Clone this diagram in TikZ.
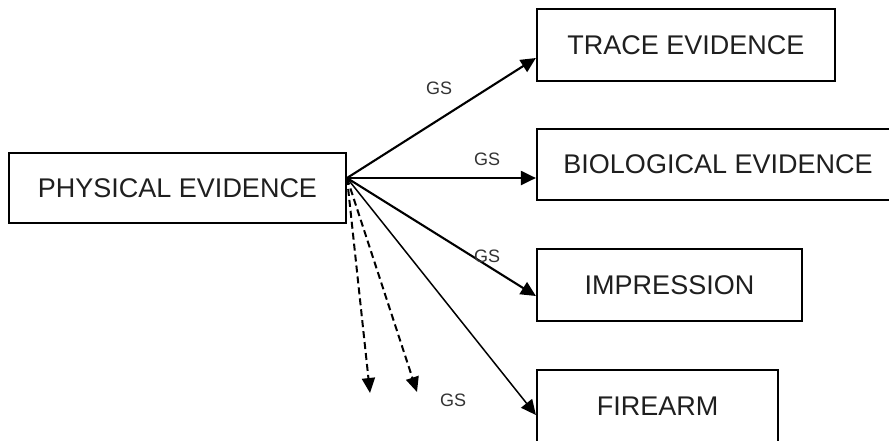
\documentclass[tikz,border=0pt]{standalone}
\usepackage{fontspec}
\setmainfont{Liberation Sans}
\usetikzlibrary{arrows.meta}
\begin{document}
\begin{tikzpicture}[x=1pt,y=-1pt,
  box/.style={draw, line width=2.2pt, inner sep=0pt, font=\fontsize{27}{30}\selectfont, text=black!88},
  lbl/.style={inner sep=0pt, font=\fontsize{18}{20}\selectfont, text=black!80},
  arr/.style={line width=2.1pt, -{Triangle[length=15pt,width=14pt]}},
  thinarr/.style={line width=1.5pt, -{Triangle[length=15pt,width=14pt]}},
  dasharr/.style={line width=2pt, dash pattern=on 7pt off 4pt, -{Triangle[length=15pt,width=13pt]}}]
\clip (0,0) rectangle (889,440);
\fill[white] (0,0) rectangle (889,440);
% boxes
\node[box, minimum width=337pt, minimum height=70pt] (phys) at (177.5,188) {PHYSICAL EVIDENCE};
\node[box, minimum width=298pt, minimum height=72pt] (trace) at (686,45) {TRACE EVIDENCE};
\node[box, minimum width=362pt, minimum height=71pt] (bio) at (718,164.5) {BIOLOGICAL EVIDENCE};
\node[box, minimum width=265pt, minimum height=72pt] (imp) at (669.5,285) {IMPRESSION};
\node[box, minimum width=241pt, minimum height=72pt] (fire) at (657.5,406) {FIREARM};
% connector points
\coordinate (src) at (347,178);
\coordinate (tT) at (trace.west |- 0,58);
\coordinate (tB) at (bio.west |- 0,178);
\coordinate (tI) at (imp.west |- 0,296);
\coordinate (tF) at (fire.west |- 0,415);
\coordinate (d1) at (370,393);
\coordinate (d2) at (417,392);
% arrows
\draw[arr] (src) -- (tT);
\draw[arr] (src) -- (tB);
\draw[arr] (src) -- (tI);
\draw[thinarr] (src) -- (tF);
\draw[dasharr] (src) -- (d1);
\draw[dasharr] (src) -- (d2);
% labels
\node[lbl] (g1) at (439,88) {GS};
\node[lbl] (g2) at (487,159) {GS};
\node[lbl] (g3) at (487,256) {GS};
\node[lbl] (g4) at (453,400) {GS};
\end{tikzpicture}
\end{document}
